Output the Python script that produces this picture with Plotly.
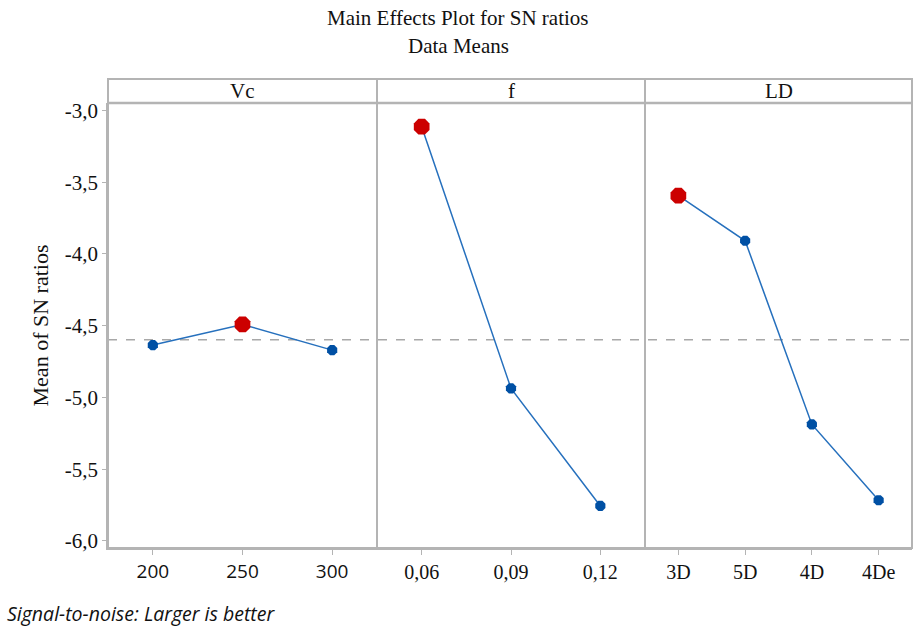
import numpy as np
import plotly.graph_objects as go

# ---- data ----
title_main = "Main Effects Plot for SN ratios"
title_sub = "Data Means"
y_title = "Mean of SN ratios"
footer = "Signal-to-noise: Larger is better"

factor_names = ["Vc", "f", "LD"]
vc_levels = ["200", "250", "300"]
vc_means = [-4.635, -4.491, -4.670]
f_levels = ["0,06", "0,09", "0,12"]
f_means = [-3.113, -4.937, -5.756]
ld_levels = ["3D", "5D", "4D", "4De"]
ld_means = [-3.594, -3.908, -5.188, -5.716]
y_ticks = [-3.0, -3.5, -4.0, -4.5, -5.0, -5.5, -6.0]
y_tick_labels = ["-3,0", "-3,5", "-4,0", "-4,5", "-5,0", "-5,5", "-6,0"]

factors = [(vc_levels, vc_means), (f_levels, f_means), (ld_levels, ld_means)]
grand_mean = float(np.mean(vc_means))

# ---- style ----
W, H = 914, 628
ML, MR, MT, MB = 108, 2, 103, 80
plot_w = W - ML - MR
plot_h = H - MT - MB
bounds = [0, 269 / plot_w, 537 / plot_w, 1.0]
header_top = 1 + 24 / plot_h
GRAY = "#b4b4b4"
BLUE = "#0050a4"
LINE_BLUE = "#2670bd"
RED = "#cc0000"
TXT = "#111111"
SERIF = "Liberation Serif"
SANS = "Open Sans"

fig = go.Figure()
for i, (levels, means) in enumerate(factors):
    xa = "x" if i == 0 else f"x{i+1}"
    best = int(np.argmax(means))
    colors = [RED if k == best else BLUE for k in range(len(means))]
    sizes = [17 if k == best else 11 for k in range(len(means))]
    fig.add_trace(go.Scatter(
        x=levels, y=means, xaxis=xa, yaxis="y", mode="lines+markers",
        line=dict(color=LINE_BLUE, width=1.5),
        marker=dict(color=colors, size=sizes, symbol="octagon", opacity=1,
                    line=dict(width=0)),
        showlegend=False, hoverinfo="x+y"))

layout = dict(
    width=W, height=H, margin=dict(l=ML, r=MR, t=MT, b=MB),
    paper_bgcolor="white", plot_bgcolor="white", showlegend=False,
    yaxis=dict(range=[-6.049, -2.948], tickvals=y_ticks, ticktext=y_tick_labels,
               showgrid=False, zeroline=False, showline=True, linecolor=GRAY, linewidth=1.5,
               ticks="outside", ticklen=4, tickcolor=GRAY, tickwidth=1,
               tickfont=dict(family=SERIF, size=21, color=TXT),
               title=dict(text=y_title, font=dict(family=SERIF, size=22, color=TXT), standoff=10),
               anchor="x"),
)
tick_fonts = [SANS, SERIF, SERIF]
for i, (levels, means) in enumerate(factors):
    key = "xaxis" if i == 0 else f"xaxis{i+1}"
    layout[key] = dict(
        domain=[bounds[i], bounds[i + 1]], anchor="y", type="category",
        range=[-0.5, len(levels) - 0.5], showgrid=False, zeroline=False,
        showline=True, linecolor=GRAY, linewidth=1.5,
        ticks="outside", ticklen=5, tickcolor=GRAY, tickwidth=1,
        tickfont=dict(family=tick_fonts[i], size=19 if i == 0 else 20, color=TXT))
fig.update_layout(**layout)

shapes = []
shapes.append(dict(type="line", xref="paper", yref="y", x0=0, x1=1, y0=grand_mean, y1=grand_mean,
                   line=dict(color="#a8a8a8", width=1.5, dash="dash"), layer="below"))
shapes.append(dict(type="rect", xref="paper", yref="paper", x0=0, x1=1, y0=0, y1=header_top,
                   line=dict(color=GRAY, width=2)))
shapes.append(dict(type="line", xref="paper", yref="paper", x0=0, x1=1, y0=1, y1=1,
                   line=dict(color=GRAY, width=2.5)))
for b in bounds[1:-1]:
    shapes.append(dict(type="line", xref="paper", yref="paper", x0=b, x1=b, y0=0, y1=header_top,
                       line=dict(color=GRAY, width=2)))
annotations = []
for i, name in enumerate(factor_names):
    annotations.append(dict(text=name, xref="paper", yref="paper",
                            x=(bounds[i] + bounds[i + 1]) / 2, y=(1 + header_top) / 2,
                            showarrow=False, xanchor="center", yanchor="middle",
                            font=dict(family=SERIF, size=21, color=TXT)))
annotations.append(dict(text=title_main, xref="paper", yref="paper", x=(458 - ML) / plot_w,
                        y=1 + (MT - 18) / plot_h, showarrow=False, xanchor="center",
                        yanchor="middle", font=dict(family=SERIF, size=21, color=TXT)))
annotations.append(dict(text=title_sub, xref="paper", yref="paper", x=(458 - ML) / plot_w,
                        y=1 + (MT - 46) / plot_h, showarrow=False, xanchor="center",
                        yanchor="middle", font=dict(family=SERIF, size=21, color=TXT)))
annotations.append(dict(text="<i>" + footer + "</i>", xref="paper", yref="paper",
                        x=(5 - ML) / plot_w, y=-(613 - (H - MB)) / plot_h,
                        showarrow=False, xanchor="left", yanchor="middle",
                        font=dict(family=SANS, size=19.5, color=TXT)))
fig.update_layout(shapes=shapes, annotations=annotations)

fig.write_html("out.html")
